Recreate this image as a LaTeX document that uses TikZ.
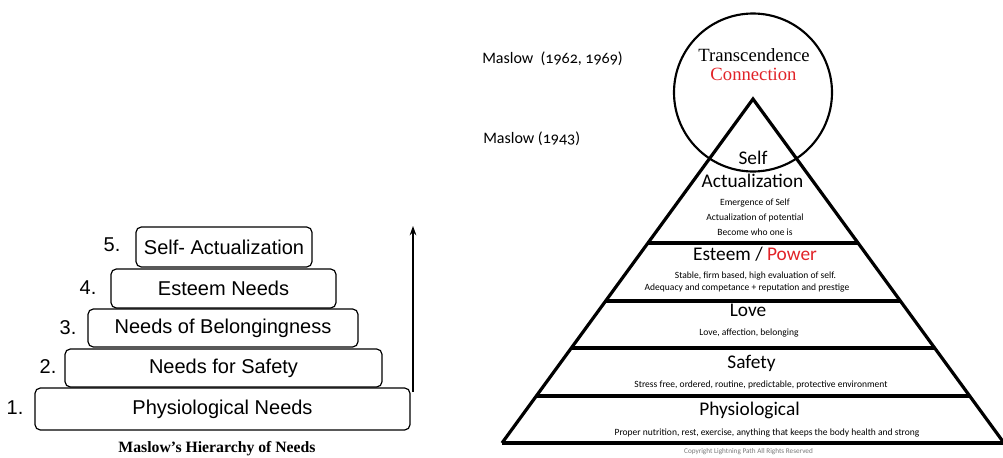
\documentclass[tikz,border=0pt]{standalone}
\usepackage{fontspec}
\setmainfont{Liberation Sans}
\newfontfamily\hum[Numbers=OldStyle]{Carlito}
\newfontfamily\serifr{Liberation Serif}
\usetikzlibrary{calc,arrows.meta}
\definecolor{myred}{RGB}{225,35,40}
\definecolor{mygrey}{RGB}{120,120,120}
\begin{document}
\begin{tikzpicture}[x=0.75pt,y=-0.75pt,
  needbox/.style={draw, rounded corners=4pt, line width=0.9pt, inner sep=0pt,
    font=\fontsize{15}{18}\selectfont},
  numlab/.style={inner sep=0pt, font=\fontsize{15}{18}\selectfont},
  head/.style={inner sep=0pt, text height=0.7em, text depth=0.2em, font=\hum\fontsize{14.5}{17}\selectfont},
  small/.style={inner sep=0pt, text height=0.7em, text depth=0.2em, font=\hum\fontsize{7.15}{8.5}\selectfont},
  side/.style={inner sep=0pt, text height=0.7em, text depth=0.2em, font=\hum\fontsize{12}{14}\selectfont},
  serifhead/.style={inner sep=0pt, text height=0.7em, text depth=0.2em, font=\serifr\fontsize{14}{16}\selectfont},
  bar/.style={line width=2.4pt}]
\useasboundingbox (0,0) rectangle (1003,457);

% ---------------- left: stacked boxes ----------------
\node[needbox, minimum width={225*0.75pt}, minimum height={39*0.75pt}] (b4) at (223.5,288.5) {Esteem Needs};
\node[needbox, minimum width={270*0.75pt}, minimum height={38*0.75pt}] (b3) at (223,328) {Needs of Belongingness};
\node[needbox, minimum width={317*0.75pt}, minimum height={38*0.75pt}] (b2) at (223.5,368) {Needs for Safety};
\node[needbox, minimum width={375*0.75pt}, minimum height={42*0.75pt}] (b1) at (222.5,409) {Physiological Needs};
\node[needbox, minimum width={176*0.75pt}, minimum height={40*0.75pt}] (b5) at (224,247) {Self- Actualization};

\node[numlab] (n5) at (112,245) {5.};
\node[numlab] (n4) at (88,288) {4.};
\node[numlab] (n3) at (68,328) {3.};
\node[numlab] (n2) at (48,367) {2.};
\node[numlab] (n1) at (15,408) {1.};

\coordinate (ar0) at (413,392);
\coordinate (ar1) at (413,226);
\draw[line width=1pt, -{Stealth[length=7pt,width=5pt]}] (ar0) -- (ar1);

\node[anchor=base, inner sep=0pt, font=\serifr\bfseries\fontsize{11.8}{13}\selectfont] (cap) at (217,452.5) {Maslow’s Hierarchy of Needs};

% ---------------- right: pyramid ----------------
\node[draw, circle, line width=1.6pt, minimum size={158*0.75pt}, inner sep=0pt] (circ) at (753,92.5) {};
\coordinate (apex) at (753,99);
\coordinate (bl) at (502,443);
\coordinate (br) at (1004,443);
\draw[line width=2.4pt, line join=miter] (bl) -- (apex) -- (br);
\draw[bar] ($(apex)!0.4186!(bl)$) -- ($(apex)!0.4186!(br)$);
\draw[bar] ($(apex)!0.5872!(bl)$) -- ($(apex)!0.5872!(br)$);
\draw[bar] ($(apex)!0.7238!(bl)$) -- ($(apex)!0.7238!(br)$);
\draw[bar] ($(apex)!0.8634!(bl)$) -- ($(apex)!0.8634!(br)$);
\draw[line width=2.8pt] (bl) -- (br);

\node[side, anchor=west] (m1) at (482,60) {Maslow\ \ (1962, 1969)};
\node[side, anchor=west] (m2) at (483,140) {Maslow (1943)};

\node[serifhead] (tr) at (754,58) {Transcendence};
\node[serifhead, text=myred] (co) at (753.5,77) {Connection};

\node[head] (s1) at (753,161) {Self};
\node[head] (s2) at (752.5,184) {Actualization};
\node[small] (s3) at (755,202) {Emergence of Self};
\node[small] (s4) at (755,217) {Actualization of potential};
\node[small] (s5) at (755,232) {Become who one is};

\node[head] (e1) at (755,257) {Esteem / \textcolor{myred}{Power}};
\node[small] (e2) at (755.5,275) {Stable, firm based, high evaluation of self.};
\node[small] (e3) at (747,287) {Adequacy and competance + reputation and prestige};

\node[head] (l1) at (748,313) {Love};
\node[small] (l2) at (749,332) {Love, affection, belonging};

\node[head] (f1) at (751.5,365) {Safety};
\node[small] (f2) at (761,384) {Stress free, ordered, routine, predictable, protective environment};

\node[head] (p1) at (749.5,412) {Physiological};
\node[small] (p2) at (767,432) {Proper nutrition, rest, exercise, anything that keeps the body health and strong};

\node[inner sep=0pt, text=mygrey, font=\hum\fontsize{5.4}{6.5}\selectfont] (cr) at (748.5,452) {Copyright Lightning Path All Rights Reserved};
\end{tikzpicture}
\end{document}
